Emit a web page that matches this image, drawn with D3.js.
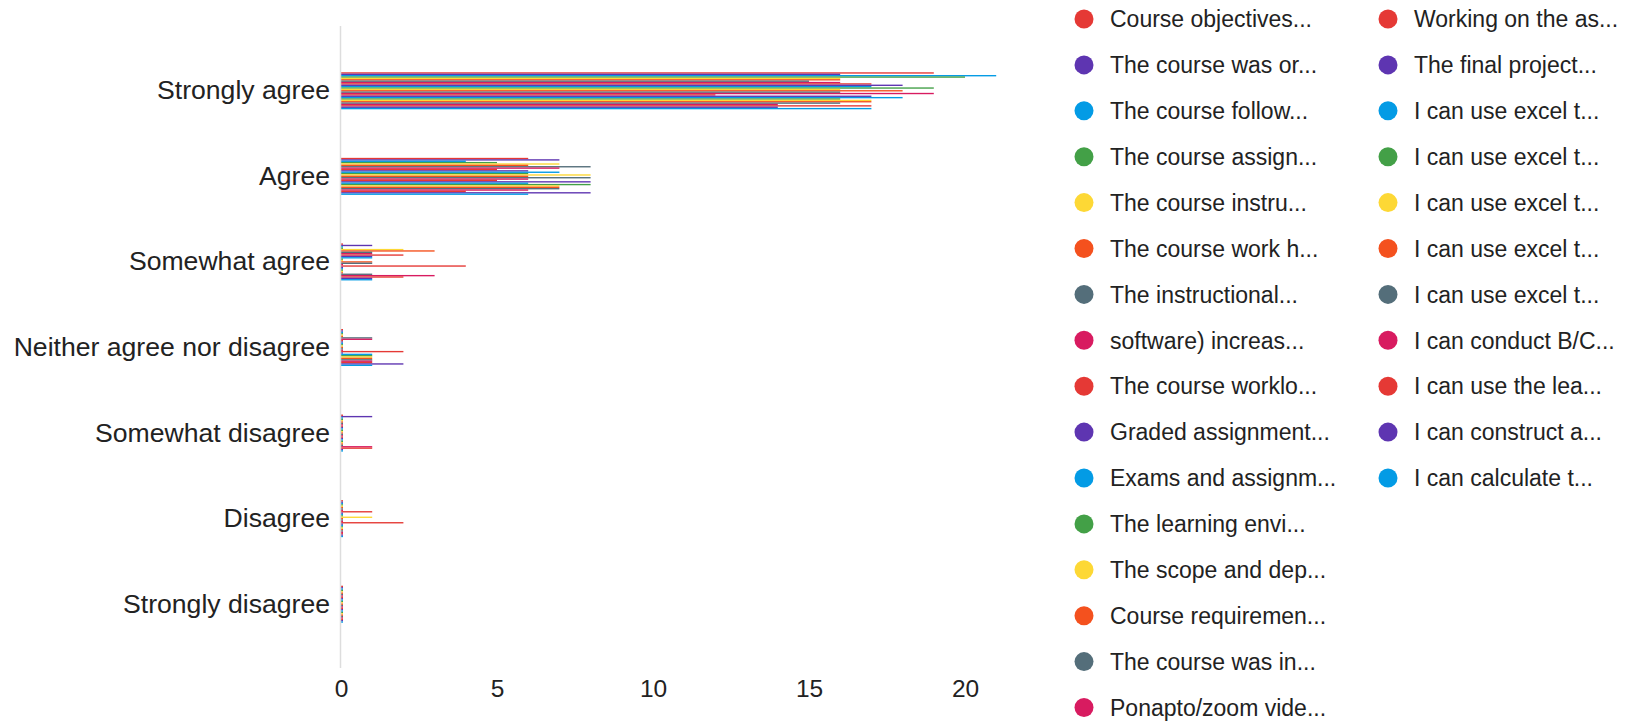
<!DOCTYPE html>
<head>
    <meta charset="utf-8">
    <script src="https://d3js.org/d3.v7.min.js"></script>
    <style>
        body { margin:0; background:#fff; }
        svg { font-family: "Liberation Sans", Arial, sans-serif; display:block; }
    </style>
</head>
<body>
    <svg id="chart" width="1637" height="724"></svg>

    <script>
        // Answer categories (y axis, top to bottom)
        var categories = ["Strongly agree", "Agree", "Somewhat agree", "Neither agree nor disagree",
                          "Somewhat disagree", "Disagree", "Strongly disagree"];

        // Questions (legend order, truncated like the original)
        var questions = ["Course objectives...", "The course was or...", "The course follow...", "The course assign...",
                         "The course instru...", "The course work h...", "The instructional...", "software) increas...",
                         "The course worklo...", "Graded assignment...", "Exams and assignm...", "The learning envi...",
                         "The scope and dep...", "Course requiremen...", "The course was in...", "Ponapto/zoom vide...",
                         "Working on the as...", "The final project...", "I can use excel t...", "I can use excel t...",
                         "I can use excel t...", "I can use excel t...", "I can use excel t...", "I can conduct B/C...",
                         "I can use the lea...", "I can construct a...", "I can calculate t..."];

        // Number of responses per question for each category
        var stronglyAgree    = [19,16,21,20,16,16,15,16,17,18,17,19,16,18,16,19,12,17,18,16,17,17,16,14,17,14,17];
        var agree            = [6,7,4,5,7,6,8,7,5,6,7,6,8,6,8,6,5,8,6,8,7,7,7,6,4,8,6];
        var somewhatAgree    = [0,1,0,0,2,3,1,1,2,1,1,0,0,1,1,0,4,0,0,0,0,0,1,3,2,1,1];
        var neither          = [0,0,0,0,0,0,1,1,0,0,0,0,0,0,0,0,2,0,1,1,1,1,1,1,1,2,1];
        var somewhatDisagree = [0,1,0,0,0,0,0,0,0,0,0,0,0,0,0,0,0,0,0,0,0,0,0,1,1,0,0];
        var disagree         = [0,0,0,0,0,0,0,0,1,0,0,0,1,0,0,0,2,0,0,0,0,0,0,0,0,0,0];
        var stronglyDisagree = [0,0,0,0,0,0,0,0,0,0,0,0,0,0,0,0,0,0,0,0,0,0,0,0,0,0,0];

        var xTicks = [0, 5, 10, 15, 20];
        var palette = ["#e53935", "#5e35b1", "#039be5", "#43a047", "#fdd835", "#f4511e", "#546e7a", "#d81b60"];

        var rows = [stronglyAgree, agree, somewhatAgree, neither, somewhatDisagree, disagree, stronglyDisagree];

        var svg = d3.select("#chart");

        // Scales
        var x = d3.scaleLinear().domain([0, 20]).range([341, 965]);
        var y0 = d3.scaleBand().domain(categories).range([48, 647]);
        var y1 = d3.scaleBand().domain(d3.range(questions.length))
            .range([0, y0.bandwidth()]).paddingOuter(17.7);
        var color = function(i) { return palette[i % palette.length]; };

        // Bars, one group per category
        var groups = svg.selectAll("g.cat")
            .data(categories)
            .enter().append("g")
            .attr("class", "cat")
            .attr("transform", function(d) { return "translate(0," + y0(d) + ")"; });

        groups.selectAll("rect")
            .data(function(d, ci) { return rows[ci].map(function(v, qi) { return {v: v, q: qi}; }); })
            .enter().append("rect")
            .attr("x", x(0))
            .attr("y", function(d) { return y1(d.q); })
            .attr("height", y1.bandwidth())
            // zero answers still get a small stub, like the original
            .attr("width", function(d) { return Math.max(x(d.v) - x(0), 2); })
            .attr("fill", function(d) { return color(d.q); });

        // Category labels
        svg.append("g")
            .attr("transform", "translate(" + (x(0) - 11) + ",0)")
            .call(d3.axisLeft(y0).tickSize(0).tickPadding(0))
            .call(function(g) { g.select(".domain").remove(); })
            .selectAll("text")
            .attr("fill", "#222")
            .style("font-size", "26.6px");

        // Vertical baseline
        svg.append("line")
            .attr("x1", x(0) - 0.5).attr("x2", x(0) - 0.5)
            .attr("y1", 26).attr("y2", 668)
            .attr("stroke", "#ddd").attr("stroke-width", 1.5);

        // X axis labels
        svg.append("g")
            .attr("transform", "translate(0,680)")
            .call(d3.axisBottom(x).tickValues(xTicks).tickSize(0).tickPadding(0))
            .call(function(g) { g.select(".domain").remove(); })
            .selectAll("text")
            .attr("fill", "#222")
            .style("font-size", "24.5px");

        // Legend, two columns
        var perCol = 16;
        var legend = svg.selectAll("g.legend")
            .data(questions)
            .enter().append("g")
            .attr("class", "legend")
            .attr("transform", function(d, i) {
                var col = Math.floor(i / perCol), row = i % perCol;
                return "translate(" + (1084 + col * 304) + "," + (19 + row * 45.9) + ")";
            });

        legend.append("circle")
            .attr("r", 9.5)
            .attr("fill", function(d, i) { return color(i); });

        legend.append("text")
            .attr("x", 26)
            .attr("dy", "0.36em")
            .attr("fill", "#222")
            .style("font-size", "23px")
            .text(function(d) { return d; });
    </script>
</body>
